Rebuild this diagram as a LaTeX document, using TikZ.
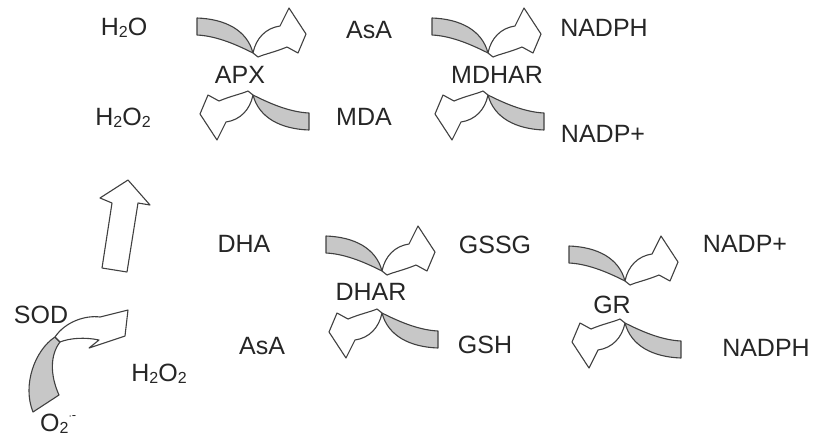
\documentclass[tikz,border=0pt]{standalone}
\usepackage{fontspec}
\setmainfont{Liberation Sans}
\usetikzlibrary{positioning}

\newcommand{\lo}[1]{\raisebox{-0.15ex}{\fontsize{16}{16}\selectfont #1}}
\newcommand{\hi}[1]{\raisebox{0.9ex}{\fontsize{13}{13}\selectfont #1}}

\tikzset{
  lbl/.style={font=\fontsize{25}{30}\selectfont, inner sep=0pt, text=black!85},
  band/.style={draw=black!75, line width=1.1pt, fill=black!22, line join=round},
  hollow/.style={draw=black!75, line width=1.1pt, fill=white, line join=round},
}

\begin{document}
\begin{tikzpicture}[x=1pt, y=-1pt]
\useasboundingbox (0,0) rectangle (816,440);

% half of a cross: grey band coming in, white arrow going out
\def\half{%
  \draw[band] (-56,-56) .. controls (-28,-55) and (-6,-44) .. (0,-21)
    .. controls (-14,-28) and (-35,-38) .. (-56,-39) -- cycle;
  \draw[hollow] (0,-21) .. controls (3,-36) and (13,-46) .. (27,-48)
    -- (36,-66) -- (53,-40) -- (45,-21) -- (34,-27)
    .. controls (22,-22) and (12,-20) .. (5,-17) -- cycle;}

\foreach \cx/\cy in {253/74, 488/74, 382/292, 625/302}{
  \begin{scope}[shift={(\cx,\cy)}]
    \half
    \begin{scope}[rotate=180]
      \half
    \end{scope}
  \end{scope}
}

% ascorbate - glutathione cycle
\node[lbl] (h2o) at (124,28) {H\lo{2}O};
\node[lbl] (h2o2) at (123,118) {H\lo{2}O\lo{2}};
\node[lbl] (apx) at (240,75) {APX};
\node[lbl] (asa) at (369,30) {AsA};
\node[lbl] (mda) at (364,117) {MDA};
\node[lbl] (mdhar) at (497,75) {MDHAR};
\node[lbl] (nadph) at (604,28) {NADPH};
\node[lbl] (nadp) at (603,134) {NADP+};

\node[lbl] (dha) at (244,244) {DHA};
\node[lbl] (asab) at (262,346) {AsA};
\node[lbl] (dhar) at (371,292) {DHAR};
\node[lbl] (gssg) at (495,245) {GSSG};
\node[lbl] (gsh) at (485,345) {GSH};
\node[lbl] (gr) at (612,305) {GR};
\node[lbl] (nadpb) at (745,244) {NADP+};
\node[lbl] (nadphb) at (766,348) {NADPH};

% superoxide dismutation
\node[lbl] (sod) at (41,315) {SOD};
\node[lbl] (h2o2b) at (159,374) {H\lo{2}O\lo{2}};
\node[lbl, anchor=west] (o2) at (40,424) {O\lo{2}\hi{$\cdot$-}};

\draw[band] (55,337) .. controls (35,350) and (22,385) .. (33,412)
  -- (59,395) .. controls (50,375) and (50,355) .. (60,342) -- cycle;
\draw[hollow] (55,337) .. controls (65,322) and (85,315) .. (100,317)
  -- (128,310) -- (125,336) -- (89,348) -- (99,340)
  .. controls (85,337) and (70,338) .. (60,342) -- cycle;

% up arrow
\draw[hollow] (102,268) -- (112,203) -- (100,198) -- (128,180)
  -- (150,205) -- (138,203) -- (127,272) -- cycle;

\end{tikzpicture}
\end{document}
